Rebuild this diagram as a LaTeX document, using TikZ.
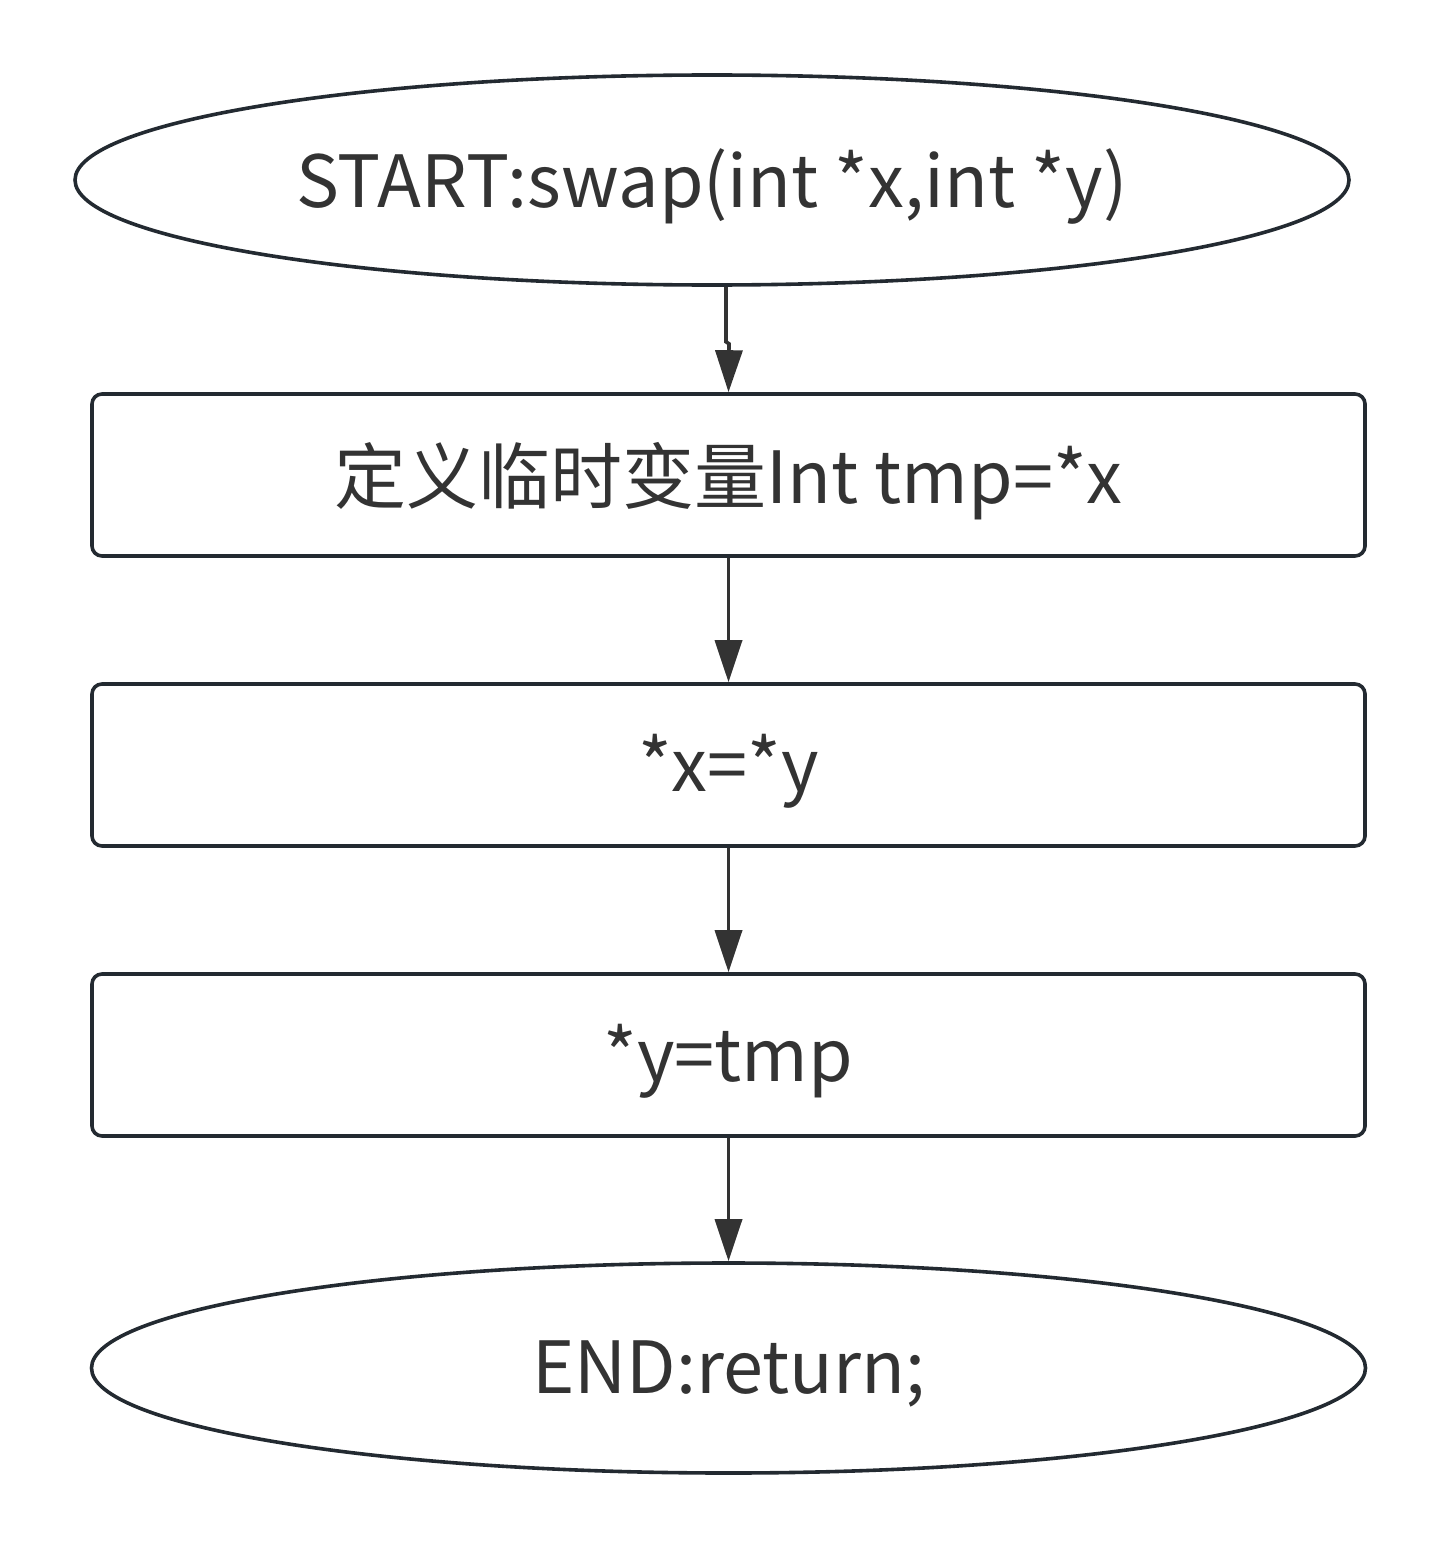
\documentclass[tikz,border=0pt]{standalone}
\usepackage{fontspec}
\setmainfont{Noto Sans CJK SC}
\usetikzlibrary{shapes.geometric,arrows.meta}
\definecolor{edge}{HTML}{232A31}
\definecolor{txt}{HTML}{333333}
\newcommand{\lowtxt}[1]{\raisebox{-6pt}[\height][\depth]{#1}}
\tikzset{
  every node/.style={font=\fontsize{72}{86}\selectfont, text=txt},
  term/.style={ellipse, draw=edge, line width=3.6pt, inner sep=0pt, minimum width=1274pt, minimum height=210pt},
  proc/.style={rectangle, rounded corners=10pt, draw=edge, line width=3.6pt, inner sep=0pt, minimum width=1273pt, minimum height=162pt},
  conn/.style={draw=txt, line width=3.6pt, -{Triangle[length=42pt,width=27pt]}}
}
\begin{document}
\begin{tikzpicture}[x=1pt,y=-1pt]
\useasboundingbox (0,0) rectangle (1439,1549);
\node[term] (s) at (712,180) {\lowtxt{START:swap(int *x,int *y)}};
\node[proc] (a) at (728.5,475) {\lowtxt{定义临时变量Int tmp=*x}};
\node[proc] (b) at (728.5,765) {\lowtxt{*x=*y}};
\node[proc] (c) at (728.5,1055) {\lowtxt{*y=tmp}};
\node[term] (e) at (728.5,1368) {\lowtxt{END:return;}};
\draw[conn] (s.south -| 726,0) -- ++(0,55) -- ++(3,2) -- (a.north);
\draw[conn] (a) -- (b);
\draw[conn] (b) -- (c);
\draw[conn] (c) -- (e);
\end{tikzpicture}
\end{document}
